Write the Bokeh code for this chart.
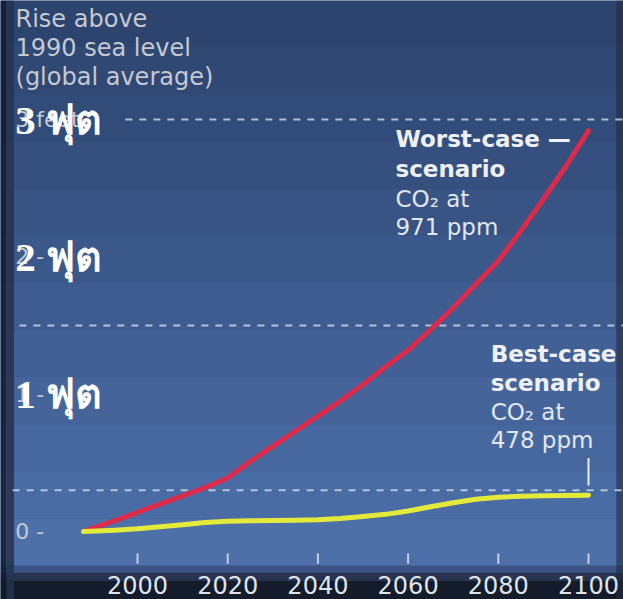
from bokeh.plotting import figure
from bokeh.models import Range1d
from bokeh.core.properties import value
from bokeh.embed import file_html
from bokeh.resources import INLINE

# ---- data ----
years = [1988, 1995, 2000, 2005, 2010, 2015, 2020, 2025, 2030, 2035, 2040, 2045,
         2050, 2055, 2060, 2065, 2070, 2075, 2080, 2085, 2090, 2095, 2100]
worst_case = [0.0, 0.08, 0.14, 0.20, 0.26, 0.32, 0.39, 0.51, 0.62, 0.73, 0.84, 0.95,
              1.07, 1.20, 1.32, 1.47, 1.63, 1.80, 1.97, 2.19, 2.42, 2.66, 2.92]
best_case = [0.0, 0.01, 0.02, 0.035, 0.05, 0.065, 0.075, 0.078, 0.08, 0.082, 0.085, 0.095,
             0.11, 0.125, 0.15, 0.18, 0.21, 0.235, 0.25, 0.257, 0.26, 0.263, 0.265]
x_ticks = [2000, 2020, 2040, 2060, 2080, 2100]
x_tick_labels = ["2000", "2020", "2040", "2060", "2080", "2100"]
y_tick_values = [0, 1, 2, 3]
y_tick_labels = ["0 -", "1 -", "2 -", "3 feet"]
thai_values = [1, 2, 3]
thai_labels = ["1 ฟุต", "2 ฟุต", "3 ฟุต"]
ref_levels = [0.3, 1.5, 3.0]
ref_starts = [1972.3, 1973.8, 1997.3]
title_lines = ["Rise above", "1990 sea level", "(global average)"]
worst_bold = ["Worst-case \u2014", "scenario"]
worst_plain = ["CO\u2082 at", "971 ppm"]
best_bold = ["Best-case", "scenario"]
best_plain = ["CO\u2082 at", "478 ppm"]
bg_band_colors = ["#2c446e", "#2f4874", "#324c7a", "#35507f", "#385485", "#3b588a",
                  "#3e5c90", "#416095", "#44649a", "#47689f", "#4a6ca4", "#4d70a9"]

X0, X1 = 1969.62, 2107.76
Y0, Y1 = -0.495, 3.867

p = figure(width=623, height=599, x_range=Range1d(X0, X1), y_range=Range1d(Y0, Y1),
           output_backend="svg", toolbar_location=None, min_border=0)
p.axis.visible = False
p.grid.visible = False
p.outline_line_color = None
p.background_fill_color = "#3c5a8c"
p.border_fill_color = "#1a2438"

# background gradient bands (top to bottom)
n = len(bg_band_colors)
top_edge, bot_edge = Y1, -0.25
step = (top_edge - bot_edge) / n
p.quad(left=[X0] * n, right=[X1] * n,
       top=[top_edge - i * step for i in range(n)],
       bottom=[top_edge - (i + 1) * step for i in range(n)],
       fill_color=bg_band_colors, line_color=None)
# dark vignette at bottom and the side edges
p.quad(left=[X0, X0, X0], right=[X1, X1, X1], top=[-0.25, -0.30, -0.36],
       bottom=[-0.30, -0.36, Y0],
       fill_color=["#3a5384", "#26344f", "#141b2b"], line_color=None)
p.quad(left=[X0, X0 + 1.3], right=[X0 + 1.3, X0 + 3.0], top=[Y1, Y1], bottom=[Y0, Y0],
       fill_color=["#121a2a", "#24324e"], line_color=None, fill_alpha=0.85)
p.quad(left=[X1 - 1.6], right=[X1], top=[Y1], bottom=[Y0],
       fill_color="#1f2b45", line_color=None, fill_alpha=0.6)

# dashed reference lines
p.segment(x0=ref_starts, x1=[X1] * len(ref_levels), y0=ref_levels, y1=ref_levels,
          line_color="#c9d3e8", line_width=2, line_dash="7 7", line_alpha=0.85)

# series
p.line(years, worst_case, line_color="#dc2a4a", line_width=5, line_cap="round", line_join="round")
p.line(years, best_case, line_color="#e4ea3a", line_width=5, line_cap="round", line_join="round")

# pointer tick at best-case end
p.segment(x0=[years[-1]], x1=[years[-1]], y0=[best_case[-1] + 0.07], y1=[best_case[-1] + 0.27],
          line_color="#e8ecf4", line_width=2)

# x ticks and labels
p.segment(x0=x_ticks, x1=x_ticks, y0=[-0.16] * len(x_ticks), y1=[-0.235] * len(x_ticks),
          line_color="#c5cfe4", line_width=2)
p.text(x=x_ticks, y=[-0.386] * len(x_ticks), text=x_tick_labels,
       text_font=value("DejaVu Sans"), text_font_size="24px", text_color="#dfe3ea",
       text_align="center", text_baseline="middle")

# gray y labels (original)
p.text(x=[1972.9] * len(y_tick_values), y=y_tick_values, text=y_tick_labels,
       text_font=value("DejaVu Sans"), text_font_size="22px", text_color="#c3c9d4",
       text_align="left", text_baseline="middle")

# title block
p.text(x=[1972.95] * 3, y=[3.729, 3.518, 3.307], text=title_lines,
       text_font=value("DejaVu Sans"), text_font_size="24px", text_color="#c4c9d2",
       text_align="left", text_baseline="middle")

# Thai overlay labels
p.text(x=[1972.9] * len(thai_values), y=thai_values, text=thai_labels,
       text_font=value("Liberation Serif"), text_font_style="bold", text_font_size="41px",
       text_color="#ffffff", text_align="left", text_baseline="middle")

# annotations
p.text(x=[2057.2] * 2, y=[2.855, 2.637], text=worst_bold,
       text_font=value("DejaVu Sans"), text_font_style="bold", text_font_size="23px",
       text_color="#eef0f5", text_align="left", text_baseline="middle")
p.text(x=[2057.2] * 2, y=[2.425, 2.221], text=worst_plain,
       text_font=value("DejaVu Sans"), text_font_size="23px",
       text_color="#e2e6ee", text_align="left", text_baseline="middle")
p.text(x=[2078.3] * 2, y=[1.296, 1.085], text=best_bold,
       text_font=value("DejaVu Sans"), text_font_style="bold", text_font_size="23px",
       text_color="#eef0f5", text_align="left", text_baseline="middle")
p.text(x=[2078.3] * 2, y=[0.874, 0.663], text=best_plain,
       text_font=value("DejaVu Sans"), text_font_size="23px",
       text_color="#e2e6ee", text_align="left", text_baseline="middle")

open("out.html", "w").write(file_html(p, INLINE))
